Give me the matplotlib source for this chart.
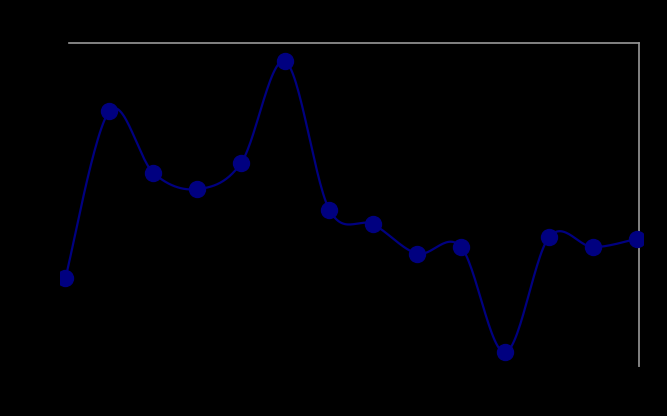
import numpy as np
import matplotlib
matplotlib.use("Agg")
import matplotlib.pyplot as plt
from matplotlib.transforms import Bbox, TransformedBbox

# Data
categories = list(range(1, 15))
values = [27.5, 79.0, 59.9, 54.9, 63.1, 94.3, 48.6, 44.0, 35.0, 37.0, 4.5, 40.1, 37.0, 39.6]

line_color = "#000080"

def smooth(xs, ys, n=30):
    xs = np.asarray(xs, float)
    ys = np.asarray(ys, float)
    px = np.concatenate([[xs[0]], xs, [xs[-1]]])
    py = np.concatenate([[ys[0]], ys, [ys[-1]]])
    outx, outy = [], []
    t = np.linspace(0, 1, n)
    for i in range(1, len(px) - 2):
        p0x, p0y = px[i], py[i]
        p3x, p3y = px[i + 1], py[i + 1]
        c1x = p0x + (px[i + 1] - px[i - 1]) / 6
        c1y = p0y + (py[i + 1] - py[i - 1]) / 6
        c2x = p3x - (px[i + 2] - px[i]) / 6
        c2y = p3y - (py[i + 2] - py[i]) / 6
        bx = (1 - t) ** 3 * p0x + 3 * (1 - t) ** 2 * t * c1x + 3 * (1 - t) * t ** 2 * c2x + t ** 3 * p3x
        by = (1 - t) ** 3 * p0y + 3 * (1 - t) ** 2 * t * c1y + 3 * (1 - t) * t ** 2 * c2y + t ** 3 * p3y
        outx.extend(bx)
        outy.extend(by)
    return np.array(outx), np.array(outy)

W, H = 667, 416
fig = plt.figure(figsize=(W / 100, H / 100), dpi=100, facecolor="black")
ax = fig.add_axes([69 / W, 1 - 367 / H, (639 - 69) / W, (367 - 43) / H])
ax.set_facecolor("black")

clip = TransformedBbox(Bbox([[60 / W, 0], [643 / W, 1]]), fig.transFigure)

x = np.arange(len(categories))
sx, sy = smooth(x, values)
l1, = ax.plot(sx, sy, color=line_color, lw=1.6, zorder=3)
l2, = ax.plot(x, values, linestyle="none", marker="o", ms=11.5, color=line_color,
              markeredgecolor=line_color, zorder=4)
for ln in (l1, l2):
    ln.set_clip_box(clip)

ax.set_xlim(0.08, 13.045)
ax.set_ylim(0, 100)
ax.set_xticks([])
ax.set_yticks([])
for s in ["top", "right"]:
    ax.spines[s].set_color("#999999")
    ax.spines[s].set_linewidth(1.2)
for s in ["left", "bottom"]:
    ax.spines[s].set_color("black")

fig.savefig("out.png", dpi=100, facecolor="black")
